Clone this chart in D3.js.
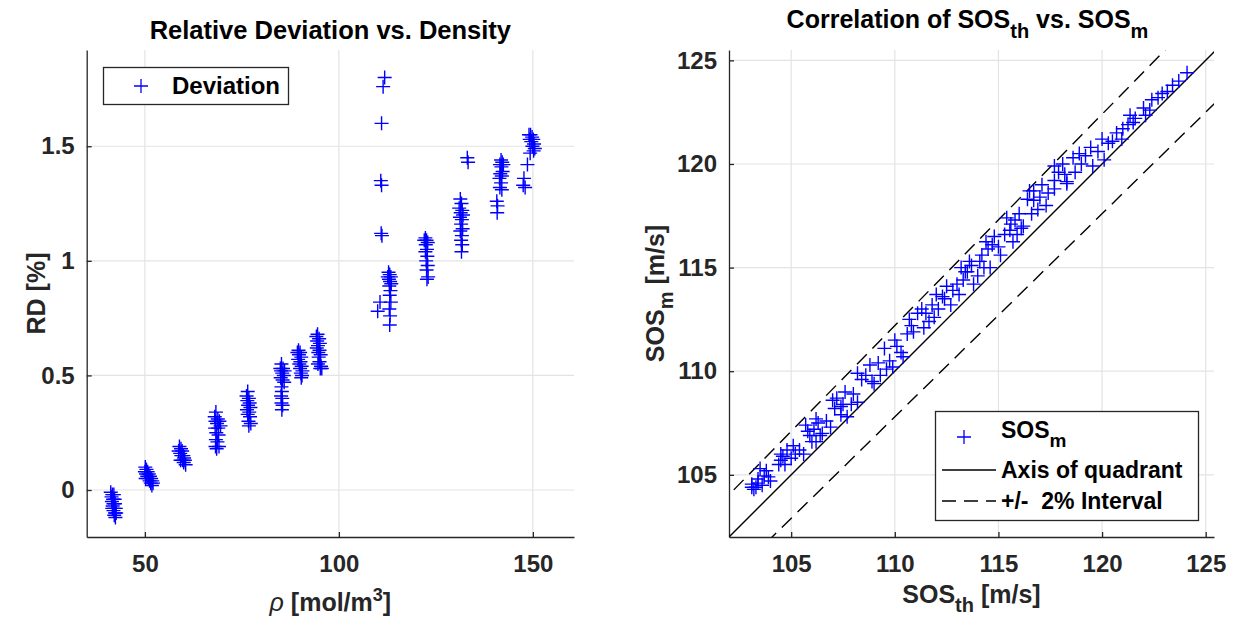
<!DOCTYPE html>
<html>
<head>
<meta charset="utf-8">
<script src="https://cdn.jsdelivr.net/npm/d3@7"></script>
<style>
  body { margin: 0; background: #fff; }
  text { font-family: "Liberation Sans", Arial, Helvetica, sans-serif; font-weight: bold; }
</style>
</head>
<body>
<svg width="1240" height="620"></svg>
<script>
// ---- data ----
// left panel: density [mol/m3] vs relative deviation [%]
const rho = [
  41.2, 41.6, 42.0, 41.4, 41.8, 42.2, 41.5, 41.9, 42.3, 41.7, 42.1, 42.5, 41.9, 42.3, 42.6, 42.1, 42.4, 41.6,
  50.1, 50.4, 50.0, 50.7, 50.3, 51.0, 50.6, 51.3, 50.9, 51.6, 51.2, 51.9, 51.5, 52.1, 51.8, 50.2,
  58.9, 59.3, 58.7, 59.6, 59.1, 59.9, 59.4, 60.1, 59.7, 60.3, 60.0, 60.5, 59.2,
  68.3, 68.0, 68.8, 68.2, 69.2, 68.6, 69.5, 68.1, 68.9, 68.4, 69.0, 68.3, 68.7, 68.2, 69.1, 68.5,
  76.5, 76.2, 76.8, 76.4, 77.0, 76.6, 77.2, 76.3, 76.9, 76.5, 77.1, 76.7, 77.3, 76.8,
  85.2, 84.9, 85.6, 85.1, 86.0, 85.4, 85.8, 85.0, 85.5, 85.9, 85.2, 85.3, 85.1, 85.4, 85.2, 85.5, 85.3,
  89.6, 89.3, 90.0, 89.7, 90.3, 89.5, 90.1, 89.8, 90.4, 90.0, 90.6, 90.2, 90.5, 90.3,
  94.5, 94.2, 94.9, 94.4, 95.1, 94.6, 94.3, 95.0, 94.7, 95.3, 94.8, 95.0, 94.6, 95.4, 95.2, 95.6,
  111.8, 111.4, 111.0, 110.8, 111.0, 110.9, 111.1, 110.0, 110.6,
  112.8, 113.1, 112.6, 113.4, 112.9, 113.2, 113.5, 113.0, 113.3, 113.1, 113.4, 113.0, 113.2, 113.1,
  122.3, 122.6, 122.0, 122.9, 122.4, 122.7, 122.3, 122.8, 122.5, 122.9, 122.6, 123.0, 122.7,
  131.3, 131.6, 131.0, 131.8, 131.4, 132.0, 131.2, 131.7, 131.5, 131.9, 131.3, 131.7, 131.5, 131.8, 131.6, 133.1, 133.3,
  141.8, 142.1, 141.5, 142.4, 141.9, 142.2, 141.6, 142.0, 141.4, 141.8, 141.5, 142.0, 140.7, 140.9, 140.8,
  149.0, 149.4, 149.8, 149.2, 150.1, 149.6, 150.3, 149.9, 150.5, 150.2, 149.3, 148.6, 147.7, 147.5, 148.0
]
const rd = [
  -0.01, -0.02, -0.02, -0.03, -0.04, -0.04, -0.05, -0.06, -0.06, -0.07, -0.08, -0.08, -0.09, -0.10, -0.10, -0.11, -0.12, -0.08,
  0.10, 0.09, 0.08, 0.08, 0.07, 0.07, 0.06, 0.06, 0.05, 0.05, 0.04, 0.04, 0.03, 0.03, 0.02, 0.05,
  0.19, 0.18, 0.17, 0.17, 0.16, 0.15, 0.15, 0.14, 0.13, 0.13, 0.12, 0.11, 0.13,
  0.34, 0.32, 0.31, 0.30, 0.30, 0.29, 0.28, 0.27, 0.27, 0.25, 0.24, 0.22, 0.21, 0.19, 0.19, 0.18,
  0.43, 0.41, 0.40, 0.39, 0.38, 0.37, 0.36, 0.35, 0.34, 0.33, 0.32, 0.30, 0.29, 0.28,
  0.55, 0.53, 0.53, 0.52, 0.52, 0.51, 0.50, 0.49, 0.48, 0.47, 0.45, 0.43, 0.41, 0.40, 0.38, 0.37, 0.35,
  0.61, 0.60, 0.60, 0.59, 0.58, 0.57, 0.56, 0.55, 0.54, 0.53, 0.52, 0.51, 0.50, 0.49,
  0.68, 0.67, 0.66, 0.65, 0.64, 0.63, 0.62, 0.61, 0.60, 0.59, 0.58, 0.56, 0.55, 0.54, 0.53, 0.53,
  1.80, 1.76, 1.60, 1.35, 1.33, 1.12, 1.11, 0.78, 0.82,
  0.95, 0.94, 0.93, 0.93, 0.92, 0.91, 0.90, 0.89, 0.87, 0.85, 0.82, 0.79, 0.76, 0.72,
  1.10, 1.09, 1.09, 1.08, 1.07, 1.05, 1.04, 1.02, 1.00, 0.98, 0.96, 0.93, 0.92,
  1.27, 1.25, 1.23, 1.22, 1.21, 1.20, 1.19, 1.18, 1.16, 1.14, 1.13, 1.11, 1.09, 1.07, 1.04, 1.45, 1.43,
  1.44, 1.43, 1.42, 1.42, 1.41, 1.39, 1.38, 1.37, 1.36, 1.34, 1.32, 1.31, 1.26, 1.24, 1.21,
  1.55, 1.55, 1.54, 1.53, 1.53, 1.52, 1.51, 1.50, 1.49, 1.48, 1.47, 1.42, 1.36, 1.33, 1.32
]

// right panel: theoretical vs measured speed of sound [m/s]
const sosTh = [
  103.1, 103.1, 103.4, 103.5, 103.7, 103.9, 103.6, 103.3, 103.2, 103.4, 103.8, 104.0,
  104.5, 104.5, 104.7, 105.1, 105.2, 105.6, 104.6, 104.4, 104.8, 105.0, 105.4,
  105.7, 105.8, 106.0, 106.2, 106.2, 106.5, 106.9, 106.1, 105.9, 106.3, 106.4, 106.7,
  107.0, 107.1, 107.4, 107.6, 107.7, 108.2, 107.5, 107.2, 107.4, 107.9, 108.0,
  108.4, 108.2, 108.8, 109.3, 109.0, 109.5, 109.75, 110.0, 110.4, 109.9, 108.6, 108.9, 109.2, 109.6,
  110.7, 110.9, 111.3, 111.4, 111.65, 111.1, 110.1, 110.3, 110.6, 110.8,
  112.0, 112.1, 112.5, 112.7, 113.1, 112.4, 111.5, 111.8, 111.9, 112.3,
  113.2, 113.3, 113.6, 113.8, 114.0, 113.5, 112.8, 113.0, 113.4, 113.7,
  114.2, 114.4, 114.6, 114.8, 115.1, 114.5, 114.1, 114.3, 114.7, 115.0,
  115.4, 115.55, 115.7, 116.0, 116.2, 115.9, 115.3, 115.6, 115.8, 116.1,
  116.5, 116.7, 116.9, 117.3, 117.7, 118.3, 117.1, 116.7, 116.4, 116.6, 117.0, 117.4,
  117.7, 118.1, 117.7, 118.3, 118.9, 119.45, 119.0, 119.55, 117.9, 118.2, 118.6, 118.7,
  120.0, 120.5, 120.1, 120.95, 121.25, 121.6, 122.1, 121.35, 119.2, 119.8, 120.3, 120.7, 121.0, 121.5,
  122.4, 122.7, 123.15, 123.7, 124.1, 122.3, 122.0, 122.9, 123.4
]
const sosM = [
  104.55, 104.4, 104.6, 105.3, 104.95, 104.9, 104.5, 104.4, 104.3, 104.8, 105.2, 104.7,
  106.0, 105.7, 105.5, 106.4, 106.0, 106.0, 105.9, 105.5, 106.2, 105.8, 106.2,
  107.4, 107.1, 106.6, 107.7, 106.6, 107.0, 107.3, 107.2, 106.9, 107.5, 106.9, 107.6,
  108.6, 108.2, 107.9, 109.0, 107.8, 108.5, 108.4, 108.7, 108.3, 108.4, 108.9,
  109.6, 109.9, 110.3, 109.8, 109.4, 111.1, 110.5, 111.5, 110.7, 110.2, 109.8, 109.5, 110.4, 110.1,
  112.5, 111.9, 113.0, 112.1, 112.4, 112.8, 111.2, 110.9, 111.8, 112.2,
  113.7, 113.0, 114.1, 113.2, 113.7, 113.5, 112.8, 113.2, 112.6, 113.6,
  115.0, 114.4, 115.3, 114.2, 114.6, 114.8, 113.9, 114.2, 114.8, 115.1,
  115.6, 116.25, 115.0, 116.5, 115.6, 115.9, 115.3, 115.0, 116.1, 116.0,
  117.4, 116.8, 116.25, 117.6, 117.0, 116.6, 116.6, 117.1, 117.3, 116.9,
  118.7, 118.25, 117.8, 118.0, 118.8, 119.05, 119.0, 118.7, 118.3, 117.6, 118.4, 118.6,
  119.9, 120.0, 119.2, 119.15, 120.5, 120.8, 120.0, 119.9, 119.6, 119.5, 120.3, 119.6,
  121.2, 121.1, 120.2, 121.2, 121.9, 122.2, 122.35, 122.35, 120.4, 120.6, 121.0, 121.5, 121.7, 122.0,
  123.1, 123.2, 123.5, 124.0, 124.4, 122.6, 122.7, 123.4, 123.8
]

const rhoTicks = [50, 100, 150]
const rdTicks = [0, 0.5, 1, 1.5]
const sosTicks = [105, 110, 115, 120, 125]
const intervalPct = 2

// ---- layout ----
const svg = d3.select("svg")
const blue = "#0000ff"
const ink = "#262626"
const gridCol = "#e3e3e3"
const plus = "M-7,0H7M0,-7V7"

const L = { x0: 86.7, x1: 574, y0: 50, y1: 537 }
const R = { x0: 729, x1: 1214, y0: 50, y1: 537 }

const xL = d3.scaleLinear().domain([35, 160.6]).range([L.x0, L.x1])
const yL = d3.scaleLinear().domain([-0.205, 1.92]).range([L.y1, L.y0])
const xR = d3.scaleLinear().domain([102, 125.4]).range([R.x0, R.x1])
const yR = d3.scaleLinear().domain([102, 125.5]).range([R.y1, R.y0])

// draws grid + axes for one panel
const drawAxes = function (box, x, y, xt, yt, yfmt) {
  const g = svg.append("g")
  g.append("g").selectAll("line").data(xt).join("line")
    .attr("x1", d => x(d)).attr("x2", d => x(d))
    .attr("y1", box.y0).attr("y2", box.y1)
    .attr("stroke", gridCol).attr("stroke-width", 1.2)
  g.append("g").selectAll("line").data(yt).join("line")
    .attr("y1", d => y(d)).attr("y2", d => y(d))
    .attr("x1", box.x0).attr("x2", box.x1)
    .attr("stroke", gridCol).attr("stroke-width", 1.2)

  const ax = g.append("g")
    .attr("transform", `translate(0,${box.y1})`)
    .call(d3.axisBottom(x).tickValues(xt).tickSizeInner(-5).tickSizeOuter(0).tickPadding(18))
  const ay = g.append("g")
    .attr("transform", `translate(${box.x0},0)`)
    .call(d3.axisLeft(y).tickValues(yt).tickFormat(yfmt).tickSizeInner(-5).tickSizeOuter(0).tickPadding(12))
  for (const a of [ax, ay]) {
    a.attr("font-family", null).attr("font-size", null)
    a.select(".domain").attr("stroke", ink).attr("stroke-width", 1.3)
    a.selectAll(".tick line").attr("stroke", ink).attr("stroke-width", 1.3)
    a.selectAll(".tick text").attr("fill", ink).style("font-size", "24px")
  }
  return g
}

drawAxes(L, xL, yL, rhoTicks, rdTicks, d3.format(""))
drawAxes(R, xR, yR, sosTicks, sosTicks, d3.format(""))

// clip for right panel lines
svg.append("clipPath").attr("id", "clipR").append("rect")
  .attr("x", R.x0).attr("y", R.y0).attr("width", R.x1 - R.x0).attr("height", R.y1 - R.y0)

// ---- left panel points ----
svg.append("g").selectAll("path").data(d3.range(rho.length)).join("path")
  .attr("d", plus)
  .attr("transform", i => `translate(${xL(rho[i])},${yL(rd[i])})`)
  .attr("stroke", blue).attr("stroke-width", 1.4).attr("fill", "none")

// ---- right panel lines ----
const lineFor = k => d3.line().x(d => xR(d)).y(d => yR(d * k))
const lines = svg.append("g").attr("clip-path", "url(#clipR)")
const span = [100, 128]
lines.append("path").attr("d", lineFor(1)(span))
  .attr("stroke", "#000").attr("stroke-width", 1.4).attr("fill", "none")
for (const k of [1 + intervalPct / 100, 1 - intervalPct / 100]) {
  lines.append("path").attr("d", lineFor(k)(span))
    .attr("stroke", "#000").attr("stroke-width", 1.4).attr("fill", "none")
    .attr("stroke-dasharray", "14,8")
}

svg.append("g").selectAll("path").data(d3.range(sosTh.length)).join("path")
  .attr("d", plus)
  .attr("transform", i => `translate(${xR(sosTh[i])},${yR(sosM[i])})`)
  .attr("stroke", blue).attr("stroke-width", 1.4).attr("fill", "none")

// ---- titles and labels ----
svg.append("text").attr("x", (L.x0 + L.x1) / 2).attr("y", 39)
  .attr("text-anchor", "middle").style("font-size", "25.5px").attr("fill", "#000")
  .text("Relative Deviation vs. Density")

const tR = svg.append("text").attr("x", (R.x0 + R.x1) / 2 - 4).attr("y", 28)
  .attr("text-anchor", "middle").style("font-size", "25px").attr("fill", "#000")
tR.append("tspan").text("Correlation of SOS")
tR.append("tspan").attr("dy", 10).style("font-size", "20px").text("th")
tR.append("tspan").attr("dy", -10).text(" vs. SOS")
tR.append("tspan").attr("dy", 10).style("font-size", "20px").text("m")

// left x label: rho [mol/m^3]
const xl = svg.append("text").attr("x", (L.x0 + L.x1) / 2).attr("y", 611)
  .attr("text-anchor", "middle").style("font-size", "25px").attr("fill", ink)
xl.append("tspan").style("font-style", "italic").style("font-weight", "normal").text("ρ")
xl.append("tspan").text(" [mol/m")
xl.append("tspan").attr("dy", -10).style("font-size", "18px").text("3")
xl.append("tspan").attr("dy", 10).text("]")

svg.append("text").attr("transform", `translate(45,${(L.y0 + L.y1) / 2}) rotate(-90)`)
  .attr("text-anchor", "middle").style("font-size", "25px").attr("fill", ink)
  .text("RD [%]")

// right x label
const xr = svg.append("text").attr("x", (R.x0 + R.x1) / 2).attr("y", 603)
  .attr("text-anchor", "middle").style("font-size", "25px").attr("fill", ink)
xr.append("tspan").text("SOS")
xr.append("tspan").attr("dy", 9).style("font-size", "20px").text("th")
xr.append("tspan").attr("dy", -9).text(" [m/s]")

const yr = svg.append("text").attr("transform", `translate(664,${(R.y0 + R.y1) / 2}) rotate(-90)`)
  .attr("text-anchor", "middle").style("font-size", "25px").attr("fill", ink)
yr.append("tspan").text("SOS")
yr.append("tspan").attr("dy", 9).style("font-size", "20px").text("m")
yr.append("tspan").attr("dy", -9).text(" [m/s]")

// ---- legends ----
const lg1 = svg.append("g")
lg1.append("rect").attr("x", 103.5).attr("y", 67.5).attr("width", 185).attr("height", 37)
  .attr("fill", "#fff").attr("stroke", ink).attr("stroke-width", 1.3)
lg1.append("path").attr("d", plus).attr("transform", "translate(141,86)")
  .attr("stroke", blue).attr("stroke-width", 1.3).attr("fill", "none")
lg1.append("text").attr("x", 172).attr("y", 94).style("font-size", "24px").attr("fill", "#000")
  .text("Deviation")

const lg2 = svg.append("g")
lg2.append("rect").attr("x", 935.5).attr("y", 411.5).attr("width", 263).attr("height", 109)
  .attr("fill", "#fff").attr("stroke", ink).attr("stroke-width", 1.3)
lg2.append("path").attr("d", plus).attr("transform", "translate(964,437)")
  .attr("stroke", blue).attr("stroke-width", 1.3).attr("fill", "none")
const s1 = lg2.append("text").attr("x", 1001).attr("y", 438).style("font-size", "23px").attr("fill", "#000")
s1.append("tspan").text("SOS")
s1.append("tspan").attr("dy", 9).style("font-size", "19px").text("m")
lg2.append("line").attr("x1", 942).attr("x2", 996).attr("y1", 470).attr("y2", 470)
  .attr("stroke", "#000").attr("stroke-width", 1.4)
lg2.append("text").attr("x", 1001).attr("y", 478).style("font-size", "23px").attr("fill", "#000")
  .text("Axis of quadrant")
lg2.append("line").attr("x1", 942).attr("x2", 996).attr("y1", 501).attr("y2", 501)
  .attr("stroke", "#000").attr("stroke-width", 1.4).attr("stroke-dasharray", "14,8")
lg2.append("text").attr("x", 1001).attr("y", 509).style("font-size", "23px").attr("fill", "#000")
  .text("+/-  2% Interval").style("white-space", "pre")
</script>
</body>
</html>
